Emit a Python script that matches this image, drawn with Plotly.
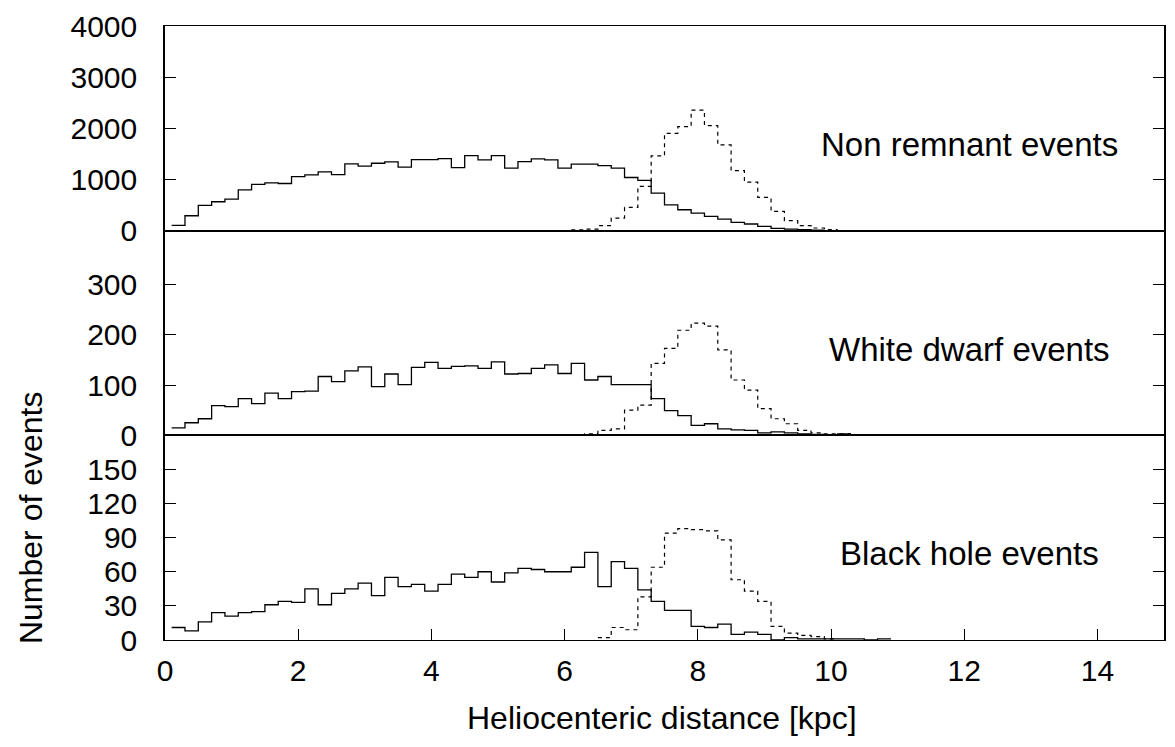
import plotly.graph_objects as go
from plotly.subplots import make_subplots

# ---------------- data ----------------
bin_centers = [0.2, 0.4, 0.6, 0.8, 1.0, 1.2, 1.4, 1.6, 1.8, 2.0,
               2.2, 2.4, 2.6, 2.8, 3.0, 3.2, 3.4, 3.6, 3.8, 4.0,
               4.2, 4.4, 4.6, 4.8, 5.0, 5.2, 5.4, 5.6, 5.8, 6.0,
               6.2, 6.4, 6.6, 6.8, 7.0, 7.2, 7.4, 7.6, 7.8, 8.0,
               8.2, 8.4, 8.6, 8.8, 9.0, 9.2, 9.4, 9.6, 9.8, 10.0,
               10.2, 10.4, 10.6, 10.8]

N = None
nonrem_disk = [104, 292, 494, 565, 617, 799, 903, 935, 922, 1058,
               1091, 1149, 1097, 1305, 1260, 1318, 1344, 1240, 1390, 1390,
               1409, 1234, 1467, 1383, 1467, 1221, 1351, 1403, 1383, 1221,
               1299, 1299, 1273, 1221, 1039, 981, 734, 506, 409, 344,
               279, 227, 162, 130, 84, 45, 32, 19, 8, N,
               N, N, N, N]
nonrem_bulge = [N, N, N, N, N, N, N, N, N, N,
                N, N, N, N, N, N, N, N, N, N,
                N, N, N, N, N, N, N, N, N, N,
                15, 30, 97, 247, 455, 864, 1461, 1903, 2032, 2357,
                2052, 1675, 1175, 948, 649, 377, 195, 97, 52, 19,
                N, N, N, N]

wd_disk = [15, 25, 33, 59, 57, 73, 63, 84, 73, 87,
           88, 117, 107, 128, 136, 97, 122, 101, 135, 145,
           133, 137, 138, 133, 146, 122, 123, 133, 140, 123,
           143, 110, 117, 101, 101, 101, 73, 49, 39, 20,
           23, 13, 11, 10, 5, 7, 5, 3, 2, 1,
           3, N, N, N]
wd_bulge = [N, N, N, N, N, N, N, N, N, N,
            N, N, N, N, N, N, N, N, N, N,
            N, N, N, N, N, N, N, N, N, 1,
            1, 3, 10, 13, 50, 60, 143, 173, 209, 223,
            217, 170, 110, 90, 53, 33, 23, 10, 5, 3,
            3, N, N, N]

bh_disk = [11, 8, 16, 24, 21, 24, 25, 31, 34, 33,
           45, 31, 41, 45, 50, 39, 55, 47, 49, 43,
           49, 58, 55, 60, 51, 59, 63, 62, 60, 60,
           64, 77, 47, 69, 63, 44, 34, 26, 26, 12,
           11, 14, 5, 7, 5, 0, 2, 1, 1, 1,
           1, 1, 0, 1]
bh_bulge = [N, N, N, N, N, N, N, N, N, N,
            N, N, N, N, N, N, N, N, N, N,
            N, N, N, N, N, N, N, N, N, N,
            N, N, 2, 11, 9, 38, 64, 94, 98, 97,
            96, 88, 53, 43, 34, 12, 6, 4, 3, 1,
            N, N, N, N]

panel_labels = ["Non remnant events", "White dwarf events", "Black hole events"]
y_ranges = [[0, 4000], [0, 407], [0, 180]]
y_ticks = [[0, 1000, 2000, 3000, 4000], [0, 100, 200, 300], [0, 30, 60, 90, 120, 150]]
x_ticks = [0, 2, 4, 6, 8, 10, 12, 14]

FONT = "Liberation Sans, Arial, Helvetica, sans-serif"


def histeps(centers, values):
    """Gnuplot-like 'histeps': steps centred on the bin centres."""
    pts = [(c, v) for c, v in zip(centers, values) if v is not None]
    cs = [p[0] for p in pts]
    vs = [p[1] for p in pts]
    w = centers[1] - centers[0]
    xs = [c - w / 2 for c in cs] + [cs[-1] + w / 2]
    ys = vs + [vs[-1]]
    return xs, ys


fig = make_subplots(rows=3, cols=1, shared_xaxes=True, vertical_spacing=0)

series = [(nonrem_disk, nonrem_bulge), (wd_disk, wd_bulge), (bh_disk, bh_bulge)]
for i, (disk, bulge) in enumerate(series, start=1):
    xs, ys = histeps(bin_centers, disk)
    fig.add_trace(go.Scatter(x=xs, y=ys, mode="lines", line_shape="hv",
                             line=dict(color="black", width=1.3),
                             showlegend=False, hoverinfo="skip"), row=i, col=1)
    xs, ys = histeps(bin_centers, bulge)
    fig.add_trace(go.Scatter(x=xs, y=ys, mode="lines", line_shape="hv",
                             line=dict(color="black", width=1.2, dash="4px,4px"),
                             showlegend=False, hoverinfo="skip"), row=i, col=1)

for i in range(1, 4):
    fig.update_xaxes(range=[0, 15], showgrid=False, zeroline=False,
                     showline=True, linecolor="black", linewidth=1.1, mirror=True,
                     row=i, col=1)
    fig.update_yaxes(range=y_ranges[i - 1], tickvals=y_ticks[i - 1],
                     showgrid=False, zeroline=False,
                     showline=True, linecolor="black", linewidth=1.5, mirror="ticks",
                     ticks="inside", ticklen=11, tickwidth=1, tickcolor="black",
                     ticklabelstandoff=20,
                     tickfont=dict(family=FONT, size=30, color="black"),
                     row=i, col=1)

fig.update_xaxes(ticks="", showticklabels=False, row=1, col=1)
fig.update_xaxes(ticks="", showticklabels=False, row=2, col=1)
fig.update_xaxes(tickvals=x_ticks, ticks="inside", ticklen=11, tickwidth=1,
                 tickcolor="black", showticklabels=True, ticklabelstandoff=4,
                 tickfont=dict(family=FONT, size=30, color="black"),
                 row=3, col=1)

ann = [
    dict(x=12.08, y=1682, xref="x", yref="y", text=panel_labels[0]),
    dict(x=12.08, y=170, xref="x2", yref="y2", text=panel_labels[1]),
    dict(x=12.08, y=76, xref="x3", yref="y3", text=panel_labels[2]),
]
for a in ann:
    fig.add_annotation(**a, showarrow=False, xanchor="center", yanchor="middle",
                       font=dict(family=FONT, size=33, color="black"))

fig.add_annotation(text="Number of events", xref="paper", yref="paper",
                   x=(31 - 165) / 1001, y=(640 - 517) / 618, textangle=-90,
                   showarrow=False, xanchor="center", yanchor="middle",
                   font=dict(family=FONT, size=32, color="black"))
fig.add_annotation(text="Heliocenteric distance [kpc]", xref="paper", yref="paper",
                   x=0.497, y=(640 - 719) / 618,
                   showarrow=False, xanchor="center", yanchor="middle",
                   font=dict(family=FONT, size=32, color="black"))

fig.update_layout(width=1175, height=747,
                  margin=dict(l=165, r=9, t=22, b=107),
                  plot_bgcolor="white", paper_bgcolor="white",
                  font=dict(family=FONT, color="black"))

fig.write_html("out.html")
